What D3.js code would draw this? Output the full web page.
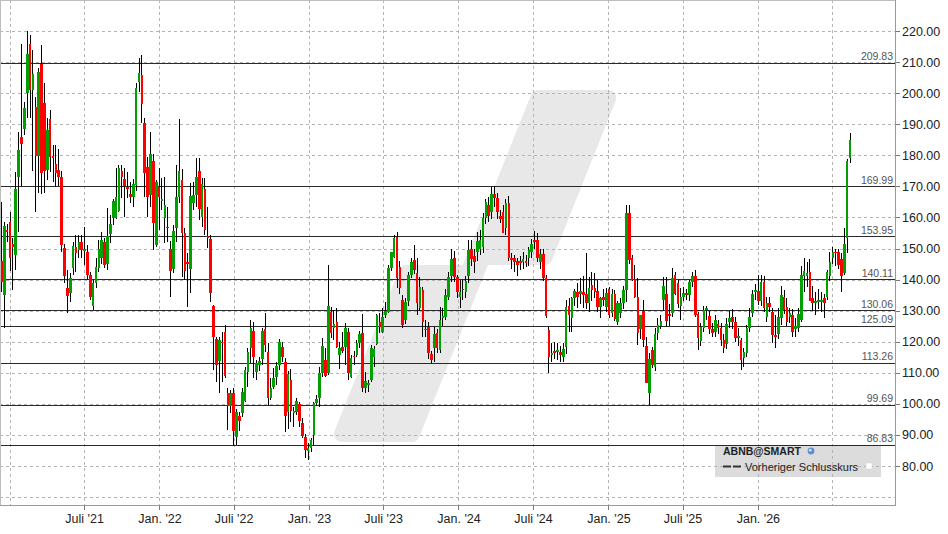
<!DOCTYPE html>
<html><head><meta charset="utf-8">
<script src="https://cdn.jsdelivr.net/npm/d3@7"></script>
<style>
body{margin:0;background:#fff;}
svg{display:block;font-family:"Liberation Sans",Arial,sans-serif;}
</style>
</head><body>
<svg id="chart" width="948" height="534"></svg>
<script>
// ---------- DATA (weekly candles, [open, high, low, close]) ----------
const firstWeek = "2020-12-11"; // week ending date of the first candle
const ohlc2020 = [
[146,165,136,139.3],[135,158.6,124.5,157.2],[155.8,158,152,155.2]];
const ohlc2021 = [
[158.4,161.8,142.7,146.8],[151.3,153.5,136.6,150.6],[147.9,174.7,143.1,169.1],[173.1,187.6,155.4,181.7],
[185.8,215.8,170,183.7],[188.3,197.3,186.5,195.1],[199.9,220,192,212.5],[215.7,218.7,191.9,201],
[201,214,175,206.1],[195.5,198.9,161.8,179.9],[179.9,208,168,206.9],[209.3,215.5,167.7,174.4],
[196.7,203.2,168,175],[175.3,191.9,172,188.1],[191.7,194.6,174.7,179.4],[179.8,183.3,171.5,179.2],
[177.1,183.3,169.9,174.4],[175.3,182,170,172.9],[173.1,175,149,151.1],[150.3,151.5,139,141.2],
[137.2,143,129.4,134.8],[135.6,142,132.9,140.4],[143.8,152.2,141.5,150.8],[150.6,154.3,142.5,148.4],
[149.5,154.5,146.8,152.2],[152.2,154.5,146.8,149.5],[149.2,157,144.7,149.9],[149,151.1,140,141.5],
[141.5,142.5,133.4,134.5],[131.5,140,130.2,138.8],[138.8,146.8,137.2,144.1],[143.8,152.7,142.5,149.8],
[146.8,155.4,144.9,152.7],[152.2,153.3,143.7,144.7],[144.9,162.9,143,154.1],[154.7,160.8,151.7,157.9],
[159.9,166,157.5,165.4],[159.7,175.8,159.5,166.7],[162.2,176.9,161.9,175.8],[175,176.9,166.1,173.1],
[172.4,175.8,160.2,170.1],[169.8,174.7,166.1,169.4],[167.5,171.5,164.5,166.7],[166.7,172.4,163.5,170.6],
[170.4,203.2,168.5,201.5],[203.7,211.2,200.5,206.4],[205.8,212.3,190.3,196.5],[190.3,192,166.7,174.2],
[176.3,179.5,160.2,166.7],[167.2,187.6,163.5,180.4],[178.2,180.5,149.5,158.1],[151.1,172,150.5,171.5],
[169.9,175.8,155.9,166.7]];
const ohlc2022 = [
[165.4,172.6,162.4,165.8],[159.9,173.1,151.9,164],[157,163.5,152.2,156.5],[149.8,152.5,134.3,142.9],
[143.3,157.5,142,155.6],[156.7,176.9,152.2,166.7],[166.7,191.7,164.8,175],[172,175.5,140.9,155.1],
[155.1,156.5,139.9,142.9],[145.5,148.5,131.3,145.2],[143.4,171,135.8,167],[164.8,171.3,162.4,167.2],
[167.2,179,163.5,173.1],[175,179,159.2,162.6],[160,172.6,157,170.6],[169.1,172.6,154.3,155.9],
[154.1,163.5,150.3,153.3],[153.1,154.3,132.9,135.8],[131.5,131.9,110.9,121.6],[120.8,121.6,107.1,112.5],
[113.9,121.6,103.6,120.5],[120,123.2,107,119.7],[123.2,125.4,108.2,109],[103.4,105,91.6,99.3],
[99.3,104.5,97,103.6],[103.6,105,86.7,91.4],[89.2,98.5,86.7,97.5],[96.2,97.5,91.4,94.6],
[96.9,105,95.8,103.9],[100.9,112,100.6,110.9],[110.3,117.9,105.5,116.8],[117.9,127,113,124.3],
[123.4,126.5,108.2,115.2],[110.3,114,107.6,113],[112.5,115,110.5,113.9],[114.3,124.3,112.5,123.4],
[124,129.1,116.8,118.9],[116.8,119.5,99.6,101.8],[101.8,108.2,101.3,105],[105.5,111.4,104.8,108.2],
[108.5,113.5,106,112.2],[112.5,121,111,120],[118.4,120,113.5,115.2],[113.6,114.8,91,96.2],
[97.3,110.5,92,109.6],[107.7,111.1,94.3,97.8],[97.2,99,92.5,97.8],[97.5,101.8,96.4,100.9],
[99.9,100.7,92.6,94.6],[94,95.5,89,89.8],[89.4,90.2,82.5,85.1],[84.8,87.5,81.9,85.7]];
const ohlc2023 = [
[85.9,88.9,84.6,88.4],[89.9,100.7,86.8,100.2],[100.2,103,99.2,101.6],[101.8,112,99,110],
[110,121.1,108.8,118.7],[114.1,118,108.6,109.1],[110,144.7,109.3,131.5],[129.5,131.3,121.1,122.9],
[124.3,130.2,120.6,125.7],[126.2,130.7,117.9,118.4],[115.7,119.8,111.2,118.1],[118.2,123.2,116.3,117],
[118.4,125.9,112.5,124.3],[123,124.3,107.6,109.8],[108.7,115.7,108.2,114.6],[115.5,117,112.5,115.2],
[115.7,120.5,115.2,119.5],[119.5,123.5,118,122.5],[122.7,128.9,103.9,105.2],[105.2,110.4,103.4,107.3],
[106.3,107.8,103.9,106.6],[107.7,118.8,107.1,118.1],[115.2,118.5,112,117.7],[119.2,129,118.8,128.6],
[126.4,129.1,122.7,124.8],[123,130.7,122.7,128.1],[128.6,132.7,127.5,129.9],[129.7,144.7,129.1,143.6],
[143.6,149,142.6,148.8],[147.4,154.3,146.8,153.5],[153.8,155.2,137.2,140.4],[144.2,146,135.2,137.2],
[133.4,135,124.5,125.4],[127,134,125.8,132.9],[133,142.5,131.5,141.5],[141.5,147,140.5,145.8],
[146.3,151.1,141.8,143.1],[142,146.8,128.6,132.4],[130.7,140.9,130,137.5],[136.6,137.5,121.4,126.4],
[124,127,121.5,124.2],[124.8,126.4,114.5,116.5],[116.2,117,113,114.1],[117.9,124.8,113.5,122.5],
[122.9,124,116.5,117.9],[117.3,131.3,116.5,127],[127.5,131,125,128.3],[128,137,127,135],
[134.5,142.5,133.5,140.9],[141.1,149.8,139.3,146.6],[147.1,149.3,139.3,140.7],[140.7,141.6,134,136.1]];
const ohlc2024 = [
[134.5,139.8,130.7,136.1],[137.1,140,133.5,136.6],[136.1,141.1,134,139.6],[141.1,152.7,139,149.5],
[149.8,152.7,144.5,146.6],[147.6,150,142,145.7],[148.8,155.4,146,152.4],[150,156,148,152.7],
[150.6,161.3,148.5,159.9],[159.9,166,158,165.1],[164,166.5,158.5,160.5],[161.8,169.9,159.5,167.7],
[167.7,170.1,163.5,166.1],[166.1,168,159.5,161.8],[160.5,162.4,158.3,159.4],[161.8,164,155,155.1],
[156.5,166,154.5,164.5],[164.5,167,146,146.8],[146.8,148.5,143.5,146.3],[146.8,148,142.5,145.7],
[146,147,141,144.7],[146,147.5,143,145.4],[145.7,149,143.5,146.6],[146,148,144,145.4],
[147.1,150.5,144.5,149.5],[149,153,147,151.6],[152.7,155.5,150,152.2],[152.7,155,145.5,146.8],
[145.7,150,143.5,148.2],[148.2,150,139.5,140.4],[140.4,141.5,127.5,128.4],[123.8,124.8,110,115.2],
[115.7,119.5,113.5,116.5],[117.1,120,114.5,116.5],[116.8,119.5,114,117.3],[116.8,118.5,113.5,115.7],
[115.2,119.5,113.5,117.6],[118.2,133.4,116.1,131.2],[131.5,134,123.2,128.6],[127.5,134.5,123.2,134.2],
[134.2,137,131.5,136.4],[136.1,139,131,134.5],[135.3,140.5,132,136.4],[136,141,131,134.9],
[135.5,148.6,130.5,132.6],[132.6,140.9,129.7,137.2],[138.3,142.5,133,136.6],[137.2,142,134,136.1],
[136.4,140,129.5,131.3],[131.3,134.5,127.5,134],[134.5,137,131.5,133.4],[131.3,137.2,129.5,135.8]];
const ohlc2025 = [
[136.9,137.7,127.5,128.6],[129.1,137,128,135.3],[135.3,136.5,126.8,127.2],[126.2,133,125.4,132.3],
[129.1,134,127.5,132.6],[132.6,138,130.5,136.6],[136.6,164,132.9,161.3],[161.3,164,145,146.3],
[146.8,148,139.5,139.9],[140.1,144.7,134,134.5],[134.5,140.4,118.9,122.9],[124,128.6,121,128.6],
[130,133.4,118.4,120.5],[118.6,121.6,106.6,106.8],[103.4,116.5,99.6,114.3],[117.3,118.4,111.5,112.5],
[112,124.5,110.5,122.5],[122.7,127.5,120.5,125.4],[125.2,128.6,124,126.8],[133.4,140.9,130,137.9],
[135.3,140.9,124.8,126.8],[128.9,132,125,128.4],[129.1,143.6,128,140.4],[141.5,142.5,135,135.3],
[138.8,140,131,132.2],[131.5,137.2,127,134.5],[134.5,137.5,133,135.6],[135.6,137,133.5,135.2],
[135,140,133,139.3],[139.3,142.5,137.5,141.1],[141.1,143.2,128,128.6],[128.9,129.5,117.3,121.1],
[120.3,126,118.5,124.8],[124.5,131.5,123,130.2],[130.2,131.5,127,130.9],[128.4,129.8,122.5,124.1],
[124.1,126,121.5,122.7],[123,128.5,121.5,127],[125.6,127,122.5,124.3],[124.3,126,118.5,120.6],
[120.6,122.5,116.3,118.1],[119.2,127.5,117.5,125.6],[126.2,130,124.5,127.7],[127.8,130.5,124,126.2],
[126.2,128,120,121.1],[121.4,124.5,118.5,121.8],[120.6,121.1,110.9,114.1],[114.8,118,112,116.8],
[116.3,125.5,115,124.5],[124.3,131,123,128.1],[129.3,136.5,128,135.3],[136.1,138.5,133.5,136.6]];
const ohlc2026 = [
[136.3,141.5,131.8,133.1],[133.1,141.5,131.5,139.3],[139.3,141,129.5,130.8],[128.1,134.5,126.5,132.4],
[132.4,134.5,129.5,131.3],[129.7,131,119.5,122.2],[122.2,128.5,118,121.6],[122.4,131,121,127.8],
[127.5,138,125.5,135],[134.5,136.5,129,130.2],[131.3,134,125,126.4],[128.1,131,126,129.1],
[128.6,130.5,121.5,123],[124,127.5,121.5,125],[124.3,131,123,128.8],[127,144.5,126.5,141.5],
[141,147,136,142.8],[141,145.5,137.5,142.1],[142.5,146.5,133,133.1],[134,138,130,132.4],
[132.4,136,128.5,133.1],[132.7,137,130.5,133.3],[132.9,136,129.5,133.4],[134,135.5,127.5,132.4],
[134.5,143,133.5,142.5],[141,149,139.5,145.8],[146.8,150.5,145,149],[149,150,144.5,148.4],
[149,150,143.5,144.7],[146.6,148.5,136,141.3],[142,156.5,141.5,151.4],[153.3,178.7,148.4,178.2],
[179,187.1,177.4,184.9]];

const levels = [209.83, 169.99, 153.95, 140.11, 130.06, 125.09, 113.26, 99.69, 86.83];
const priceTicks = [80, 90, 100, 110, 120, 130, 140, 150, 160, 170, 180, 190, 200, 210, 220];
const gridPrices = [70, 80, 90, 100, 110, 120, 130, 140, 150, 160, 170, 180, 190, 200, 210, 220];
const gridDates = ["2021-01-01","2021-07-01","2022-01-01","2022-07-01","2023-01-01","2023-07-01",
  "2024-01-01","2024-07-01","2025-01-01","2025-07-01","2026-01-01","2026-07-01"];
const labelDates = ["2021-07-01","2022-01-01","2022-07-01","2023-01-01","2023-07-01",
  "2024-01-01","2024-07-01","2025-01-01","2025-07-01","2026-01-01"];
const dateLabels = ["Juli '21","Jan. '22","Juli '22","Jan. '23","Juli '23",
  "Jan. '24","Juli '24","Jan. '25","Juli '25","Jan. '26"];
const legendTitle = "ABNB@SMART";
const legendItem = "Vorheriger Schlusskurs";

// ---------- BUILD ----------
const parse = d3.utcParse("%Y-%m-%d");
const start = parse(firstWeek);
const allOhlc = [].concat(ohlc2020, ohlc2021, ohlc2022, ohlc2023, ohlc2024, ohlc2025, ohlc2026);
const candles = allOhlc.map((v, i) => ({
  date: d3.utcDay.offset(start, i * 7), o: v[0], h: v[1], l: v[2], c: v[3]
}));

const W = 948, H = 534;
const plot = {left: 0, right: 895, top: 0, bottom: 505};

const x = d3.scaleUtc().domain([parse("2021-01-01"), parse("2026-07-01")]).range([10, 832]);
const y = d3.scaleLinear().domain([80, 220]).range([466, 31]);

const svg = d3.select("#chart");
svg.append("rect").attr("width", W).attr("height", H).attr("fill", "#fff");

// watermark
svg.append("path")
  .attr("d", "M538.4,98 L608.2,98 L544.6,257 L482.6,257 L411.8,434 L342,434 L406.4,273 L468.4,273 Z")
  .attr("fill", "#e8e8e8").attr("stroke", "#e8e8e8")
  .attr("stroke-width", 16).attr("stroke-linejoin", "round");

// legend box (under grid)
svg.append("rect").attr("x", 715).attr("y", 445).attr("width", 166).attr("height", 32)
  .attr("fill", "#dcdcdc");

// grid
const grid = svg.append("g").attr("shape-rendering", "crispEdges")
  .attr("stroke", "#b4b4b4").attr("stroke-dasharray", "3,3").attr("stroke-width", 1);
grid.selectAll("line.h").data(gridPrices).join("line")
  .attr("x1", plot.left).attr("x2", plot.right)
  .attr("y1", d => Math.round(y(d)) + 0.5).attr("y2", d => Math.round(y(d)) + 0.5);
grid.selectAll("line.v").data(gridDates.map(parse)).join("line")
  .attr("class", "v")
  .attr("x1", d => Math.round(x(d)) + 0.5).attr("x2", d => Math.round(x(d)) + 0.5)
  .attr("y1", plot.top).attr("y2", plot.bottom);

// level lines
const lv = svg.append("g");
lv.selectAll("line").data(levels).join("line")
  .attr("shape-rendering", "crispEdges")
  .attr("x1", plot.left).attr("x2", plot.right)
  .attr("y1", d => Math.round(y(d)) + 0.5).attr("y2", d => Math.round(y(d)) + 0.5)
  .attr("stroke", "#2a2a2a").attr("stroke-width", 1);
lv.selectAll("text").data(levels).join("text")
  .attr("x", 893).attr("y", d => y(d) - 2.5)
  .attr("text-anchor", "end").attr("font-size", "10.5px").attr("fill", "#555")
  .text(d => d3.format(".2f")(d));

// candles
const bw = 2.6;
const cg = svg.append("g").attr("shape-rendering", "crispEdges");
cg.selectAll("line").data(candles).join("line")
  .attr("x1", d => x(d.date)).attr("x2", d => x(d.date))
  .attr("y1", d => y(d.h)).attr("y2", d => y(d.l))
  .attr("stroke", "#000").attr("stroke-width", 1);
cg.selectAll("rect").data(candles).join("rect")
  .attr("x", d => x(d.date) - bw / 2).attr("width", bw)
  .attr("y", d => Math.min(y(d.o), y(d.c)))
  .attr("height", d => Math.max(1.6, Math.abs(y(d.o) - y(d.c))))
  .attr("fill", d => d.c >= d.o ? "#00a000" : "#ff0000");

// legend content
svg.append("text").attr("x", 723).attr("y", 455).attr("font-size", "10.5px")
  .attr("font-weight", "bold").attr("fill", "#222").text(legendTitle);
svg.append("circle").attr("cx", 811).attr("cy", 451).attr("r", 3.4).attr("fill", "#5b8fd0");
svg.append("circle").attr("cx", 810.2).attr("cy", 450.2).attr("r", 1.4).attr("fill", "#cfe2f7");
svg.append("line").attr("x1", 723).attr("x2", 731).attr("y1", 466.5).attr("y2", 466.5)
  .attr("stroke", "#333").attr("stroke-width", 2);
svg.append("line").attr("x1", 733).attr("x2", 741).attr("y1", 466.5).attr("y2", 466.5)
  .attr("stroke", "#333").attr("stroke-width", 2);
svg.append("text").attr("x", 745).attr("y", 470.5).attr("font-size", "11px")
  .attr("fill", "#222").text(legendItem);
svg.append("rect").attr("x", 866).attr("y", 463).attr("width", 6).attr("height", 6)
  .attr("fill", "#fff").attr("stroke", "#d8d8d8").attr("stroke-width", 0.6);

// frame
const fr = svg.append("g").attr("shape-rendering", "crispEdges").attr("fill", "none");
fr.append("line").attr("x1", 0.5).attr("x2", 0.5).attr("y1", 0).attr("y2", plot.bottom)
  .attr("stroke", "#bdbdbd").attr("stroke-width", 1);
fr.append("line").attr("x1", 0).attr("x2", plot.right).attr("y1", 0.5).attr("y2", 0.5)
  .attr("stroke", "#bdbdbd").attr("stroke-width", 1);
fr.append("line").attr("x1", plot.right + 0.5).attr("x2", plot.right + 0.5)
  .attr("y1", 0).attr("y2", plot.bottom + 1).attr("stroke", "#9a9a9a").attr("stroke-width", 1.5);
fr.append("line").attr("x1", 0).attr("x2", plot.right + 1)
  .attr("y1", plot.bottom + 0.5).attr("y2", plot.bottom + 0.5)
  .attr("stroke", "#9a9a9a").attr("stroke-width", 1.5);

// right axis
const ya = svg.append("g").attr("transform", `translate(${plot.right + 1},0)`)
  .call(d3.axisRight(y).tickValues(priceTicks).tickFormat(d3.format(".2f"))
    .tickSize(4).tickPadding(2));
ya.select(".domain").remove();
ya.selectAll("line").attr("stroke", "#777").attr("shape-rendering", "crispEdges");
ya.selectAll("text").attr("font-size", "12.5px").attr("fill", "#222")
  .attr("font-family", '"Liberation Sans",Arial,sans-serif');

// bottom axis
const xa = svg.append("g").attr("transform", `translate(0,${plot.bottom + 1})`)
  .call(d3.axisBottom(x).tickValues(labelDates.map(parse))
    .tickFormat((d, i) => dateLabels[i]).tickSize(4).tickPadding(4));
xa.select(".domain").remove();
xa.selectAll("line").attr("stroke", "#777").attr("shape-rendering", "crispEdges");
xa.selectAll("text").attr("font-size", "12.5px").attr("fill", "#222")
  .attr("font-family", '"Liberation Sans",Arial,sans-serif');
</script>
</body></html>
